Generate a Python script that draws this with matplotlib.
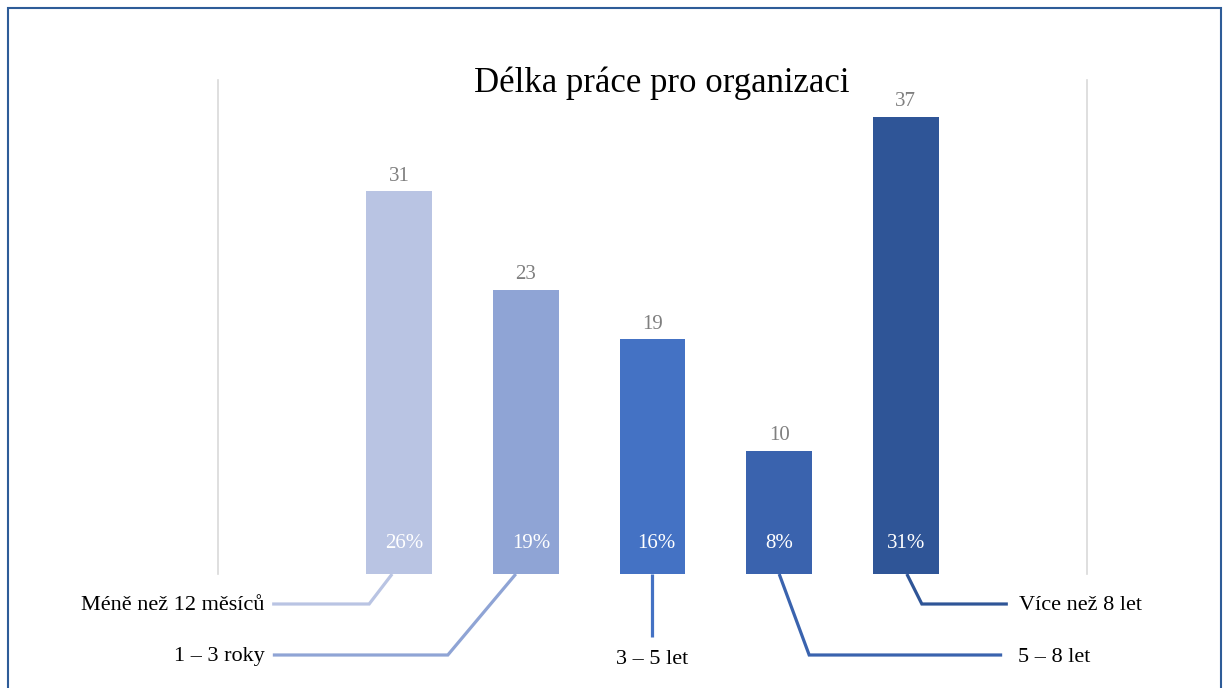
import matplotlib
matplotlib.use("Agg")
import matplotlib.pyplot as plt
from matplotlib.patches import Rectangle
import numpy as np

categories = ["Méně než 12 měsíců", "1 – 3 roky", "3 – 5 let", "5 – 8 let", "Více než 8 let"]
counts = [31, 23, 19, 10, 37]
percents = ["26%", "19%", "16%", "8%", "31%"]
colors = ["#b9c4e3", "#8fa4d5", "#4472c4", "#3a63ae", "#2f5597"]

plt.rcParams['font.family'] = ['Liberation Serif', 'DejaVu Serif']

fig = plt.figure(figsize=(12.23, 6.88), dpi=100)
ax = fig.add_axes([218/1223, 1-574/688, (1087-218)/1223, (574-80)/688])

x = np.arange(len(categories))
bars = ax.bar(x, counts, width=0.52, color=colors)
ax.set_xlim(-1.43, 5.43)
ax.set_ylim(0, 40)
ax.set_xticks([])
ax.set_yticks([])
for s in ["top", "bottom"]:
    ax.spines[s].set_visible(False)
for s in ["left", "right"]:
    ax.spines[s].set_color("#d9d9d9")
    ax.spines[s].set_linewidth(1.2)

pct_shift = [4, 4, 3, 0, 0]
for xi, c, p, sh in zip(x, counts, percents, pct_shift):
    ax.annotate(str(c), (xi, c), xytext=(0, 4), textcoords="offset points",
                ha="center", va="bottom", fontsize=15, color="#7f7f7f")
    ax.annotate(p, (xi, 0), xytext=(sh, 22), textcoords="offset points",
                ha="center", va="center", fontsize=15, color="white")

fig.text(662/1223, 1-83/688, "Délka práce pro organizaci", ha="center", va="center",
         fontsize=25, color="black")

# leader lines: pixel offsets from (bar center, baseline)
leaders = [
    ([(-7, 0), (-30, -30), (-127, -30)], (-135, -32), "right"),
    ([(-10, 0), (-78, -81), (-253, -81)], (-261, -83), "right"),
    ([(0, 0), (0, -63)], (0, -85), "center"),
    ([(0, 0), (30, -81), (223, -81)], (239, -83), "left"),
    ([(1, 0), (16, -30), (102, -30)], (113, -32), "left"),
]
fig.canvas.draw()
inv = ax.transData.inverted()
for xi, col, cat, (pts, lab, ha) in zip(x, colors, categories, leaders):
    bx, by = ax.transData.transform((xi, 0))
    disp = [(bx + dx, by + dy) for dx, dy in pts]
    dat = inv.transform(disp)
    ax.plot(dat[:, 0], dat[:, 1], color=col, lw=2.3, clip_on=False,
            solid_capstyle="butt", solid_joinstyle="miter")
    lx, ly = inv.transform((bx + lab[0], by + lab[1]))
    ax.text(lx, ly, cat, ha=ha, va="center", fontsize=16, color="black", clip_on=False)

fig.add_artist(Rectangle((8/1223, -0.01), (1221-8)/1223, 1 - 8/688 + 0.01,
                         transform=fig.transFigure, fill=False,
                         edgecolor="#2e5c98", lw=1.5))

fig.savefig("out.png", dpi=100)
